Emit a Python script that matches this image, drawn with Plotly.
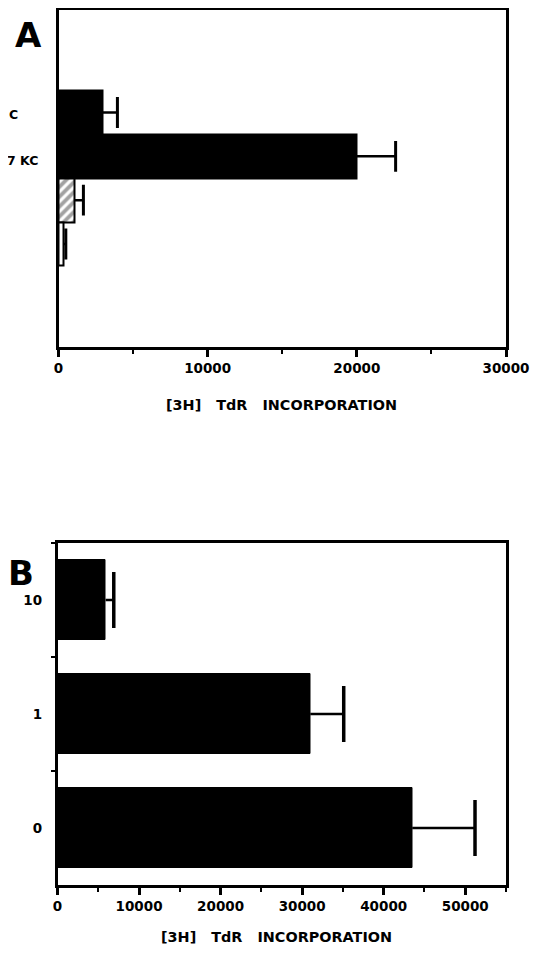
import plotly.graph_objects as go

# Panel A data
a_positions = [1, 2, 3, 4]
a_values = [2950, 20000, 1070, 340]
a_errors = [1000, 2600, 600, 150]
a_fill = ["black", "black", "white", "white"]
a_pattern = ["", "", "/", ""]
a_labels = ["C", "7 KC"]
a_label_pos = [1.05, 2.1]

# Panel B data
b_categories = ["10", "1", "0"]
b_values = [5900, 31000, 43500]
b_errors = [1000, 4100, 7700]

a_ticks = [0, 10000, 20000, 30000]
a_minor = [5000, 15000, 25000]
b_ticks = [0, 10000, 20000, 30000, 40000, 50000]
b_minor = [5000, 15000, 25000, 35000, 45000, 55000]

x_title = "[3H]   TdR   INCORPORATION"
FONT = "DejaVu Sans"


def err_lines(vals, errs, cats):
    xs, ys = [], []
    for v, e, c in zip(vals, errs, cats):
        xs += [v, v + e, None]
        ys += [c, c, None]
    return xs, ys


fig = go.Figure()

fig.add_trace(go.Bar(
    x=a_values, y=a_positions, orientation="h", width=1,
    marker=dict(color=a_fill, line=dict(color="black", width=2),
                pattern=dict(shape=a_pattern, fgcolor="black", bgcolor="white", size=7, solidity=0.55)),
    xaxis="x", yaxis="y", showlegend=False,
))
ex, ey = err_lines(a_values, a_errors, a_positions)
fig.add_trace(go.Scatter(x=ex, y=ey, mode="lines", line=dict(color="black", width=2.5),
                         xaxis="x", yaxis="y", showlegend=False, hoverinfo="skip"))
fig.add_trace(go.Scatter(x=[v + e for v, e in zip(a_values, a_errors)], y=a_positions, mode="markers",
                         marker=dict(symbol="line-ns", size=22, line=dict(color="black", width=3)),
                         xaxis="x", yaxis="y", showlegend=False, hoverinfo="skip"))

fig.add_trace(go.Bar(
    x=b_values, y=b_categories, orientation="h", width=0.70,
    marker=dict(color="black", line=dict(color="black", width=1)),
    xaxis="x2", yaxis="y2", showlegend=False,
))
ex, ey = err_lines(b_values, b_errors, b_categories)
fig.add_trace(go.Scatter(x=ex, y=ey, mode="lines", line=dict(color="black", width=2.5),
                         xaxis="x2", yaxis="y2", showlegend=False, hoverinfo="skip"))
fig.add_trace(go.Scatter(x=[v + e for v, e in zip(b_values, b_errors)], y=b_categories, mode="markers",
                         marker=dict(symbol="line-ns", size=40, line=dict(color="black", width=3.5)),
                         xaxis="x2", yaxis="y2", showlegend=False, hoverinfo="skip"))

H = 954.0
W = 542.0
OFF = 8  # page body margin


def px(v):
    return (v - OFF) / W


def py(v):
    return 1 - (v - OFF) / H


axis_common = dict(showline=True, linecolor="black", linewidth=2.5, mirror=True,
                   showgrid=False, zeroline=False, automargin=False)
tickfont = dict(family=FONT, size=13.5, color="black", weight="bold")

fig.update_layout(
    width=542, height=954,
    margin=dict(l=0, r=0, t=0, b=0, autoexpand=False),
    paper_bgcolor="white", plot_bgcolor="white",
    bargap=0,
    xaxis=dict(domain=[px(58.5), px(506)], anchor="y", range=[0, 30000],
               tickvals=a_ticks, ticktext=[str(t) for t in a_ticks],
               ticks="outside", ticklen=7, tickwidth=2.5,
               tickcolor="black", tickfont=tickfont,
               minor=dict(tickvals=a_minor, ticks="outside", ticklen=4,
                          tickwidth=2, tickcolor="black"),
               **axis_common),
    yaxis=dict(domain=[py(347), py(9.5)], anchor="x", range=[6.35, -1.35],
               showticklabels=False, ticks="", **axis_common),
    xaxis2=dict(domain=[px(57.5), px(506)], anchor="y2", range=[0, 55000],
                tickvals=b_ticks, ticktext=[str(t) for t in b_ticks],
                ticks="outside", ticklen=7,
                tickwidth=2.5, tickcolor="black", tickfont=tickfont,
                minor=dict(tickvals=b_minor, ticks="outside",
                           ticklen=4, tickwidth=2, tickcolor="black"),
                **axis_common),
    yaxis2=dict(domain=[py(885), py(543)], anchor="x2", type="category",
                categoryorder="array", categoryarray=b_categories, autorange="reversed",
                ticks="outside", tickson="boundaries", ticklen=4, tickwidth=2, tickcolor="black",
                tickfont=tickfont, ticklabelstandoff=10,
                **axis_common),
)

ann = []
ann.append(dict(text="A", x=px(28), y=py(35), xref="paper", yref="paper", showarrow=False,
                xanchor="center", yanchor="middle",
                font=dict(family=FONT, size=34, color="black", weight="bold")))
ann.append(dict(text="B", x=px(21), y=py(573), xref="paper", yref="paper", showarrow=False,
                xanchor="center", yanchor="middle",
                font=dict(family=FONT, size=34, color="black", weight="bold")))
label_right = [20, 40]
for lab, pos, xr in zip(a_labels, a_label_pos, label_right):
    ann.append(dict(text=lab, x=px(xr), y=pos, xref="paper", yref="y", xanchor="right",
                    yanchor="middle", showarrow=False,
                    font=dict(family=FONT, size=12.5, color="black", weight="bold")))
ann.append(dict(text=x_title, x=px(281), y=py(405), xref="paper", yref="paper", showarrow=False,
                xanchor="center", yanchor="middle",
                font=dict(family=FONT, size=14.4, color="black", weight="bold")))
ann.append(dict(text=x_title, x=px(276), y=py(937), xref="paper", yref="paper", showarrow=False,
                xanchor="center", yanchor="middle",
                font=dict(family=FONT, size=14.4, color="black", weight="bold")))
fig.update_layout(annotations=ann)

fig.write_html("out.html")
